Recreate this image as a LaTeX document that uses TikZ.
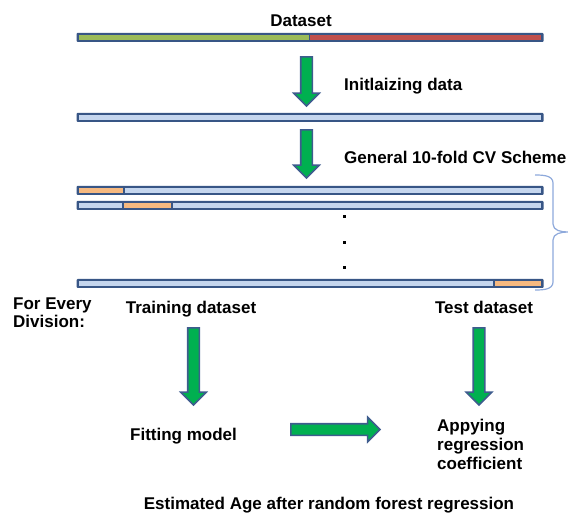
\documentclass[tikz,border=0pt]{standalone}
\usepackage{fontspec}
\setmainfont{Liberation Sans}
\usetikzlibrary{shapes.arrows}

\definecolor{frameblue}{RGB}{56,86,134}
\definecolor{lightfill}{RGB}{197,214,238}
\definecolor{splitgreen}{RGB}{155,187,89}
\definecolor{splitred}{RGB}{192,80,77}
\definecolor{foldorange}{RGB}{246,185,128}
\definecolor{arrowgreen}{RGB}{0,176,80}
\definecolor{arrowedge}{RGB}{62,92,142}
\definecolor{bracecol}{RGB}{142,169,219}

% one coloured segment inside a bar: x from, x to, bar centre y, colour
\newcommand{\barseg}[4]{\fill[#4] (#1,#3-2.3) rectangle (#2,#3+2.3);}

\begin{document}
\begin{tikzpicture}[x=1pt,y=-1pt,
  lbl/.style={font=\bfseries\fontsize{17}{19}\selectfont, inner sep=0pt},
  barframe/.style={rectangle, fill=frameblue, rounded corners=1pt,
    minimum width=467pt, minimum height=9pt, inner sep=0pt},
  blockarrow/.style={single arrow, draw=arrowedge, fill=arrowgreen,
    line width=1.6pt, inner sep=0pt, text height=5pt, text depth=5pt,
    single arrow head extend=7pt, single arrow tip angle=90},
  dotmark/.style={rectangle, fill=black, minimum size=3pt, inner sep=0pt}]
\useasboundingbox (0,0) rectangle (568,513);

% the full dataset, split in two parts
\node[lbl, anchor=base] (dataset) at (301,27) {Dataset};
\node[barframe] (bar1) at (310,37.5) {};
\barseg{79}{308.5}{37.5}{splitgreen}
\barseg{310}{541}{37.5}{splitred}

\node[blockarrow, minimum height=49pt, rotate=-90] (arr1) at (306.5,78.5) {};
\node[lbl, anchor=base west] (init) at (344,91) {Initlaizing data};

% initialized data
\node[barframe] (bar2) at (310,117.5) {};
\barseg{79}{541}{117.5}{lightfill}

\node[blockarrow, minimum height=48pt, rotate=-90] (arr2) at (306.5,151) {};
\node[lbl, anchor=base west] (scheme) at (344,164) {General 10-fold CV Scheme};

% folds of the cross validation
\node[barframe] (fold1) at (310,190.5) {};
\barseg{79}{123}{190.5}{foldorange}
\barseg{124.5}{541}{190.5}{lightfill}

\node[barframe] (fold2) at (310,205.5) {};
\barseg{79}{122}{205.5}{lightfill}
\barseg{123.5}{171}{205.5}{foldorange}
\barseg{172.5}{541}{205.5}{lightfill}

\node[dotmark] (dot1) at (344,217) {};
\node[dotmark] (dot2) at (344,242.5) {};
\node[dotmark] (dot3) at (344,268) {};

\node[barframe] (fold10) at (310,283.5) {};
\barseg{79}{493}{283.5}{lightfill}
\barseg{494.5}{541}{283.5}{foldorange}

% brace grouping the folds
\coordinate (btop) at (535,175);
\coordinate (btip) at (568,232);
\coordinate (bbot) at (535,290);
\draw[bracecol, line width=1.2pt]
  (btop) to[out=0,in=90] (553,183) -- (553,224) to[out=-90,in=180] (btip)
  to[out=180,in=90] (553,240) -- (553,282) to[out=-90,in=0] (bbot);

% per-division processing
\node[lbl, anchor=base west] (every) at (13,309) {For Every};
\node[lbl, anchor=base west] (division) at (13,327) {Division:};
\node[lbl, anchor=base] (train) at (191,313) {Training dataset};
\node[lbl, anchor=base] (test) at (484,313) {Test dataset};

\node[blockarrow, minimum height=77pt, rotate=-90] (arr3) at (193.5,363.5) {};
\node[blockarrow, minimum height=77pt, rotate=-90] (arr4) at (479,363.5) {};

\node[lbl, anchor=base west] (fit) at (130,440) {Fitting model};
\node[blockarrow, minimum height=89pt, single arrow head extend=6.5pt] (arr5) at (332.5,429.5) {};
\node[lbl, anchor=base west] (apply1) at (437,431) {Appying};
\node[lbl, anchor=base west] (apply2) at (437,450) {regression};
\node[lbl, anchor=base west] (apply3) at (437,469) {coefficient};

\node[lbl, anchor=base] (estimate) at (329,509.5) {Estimated Age after random forest regression};
\end{tikzpicture}
\end{document}
